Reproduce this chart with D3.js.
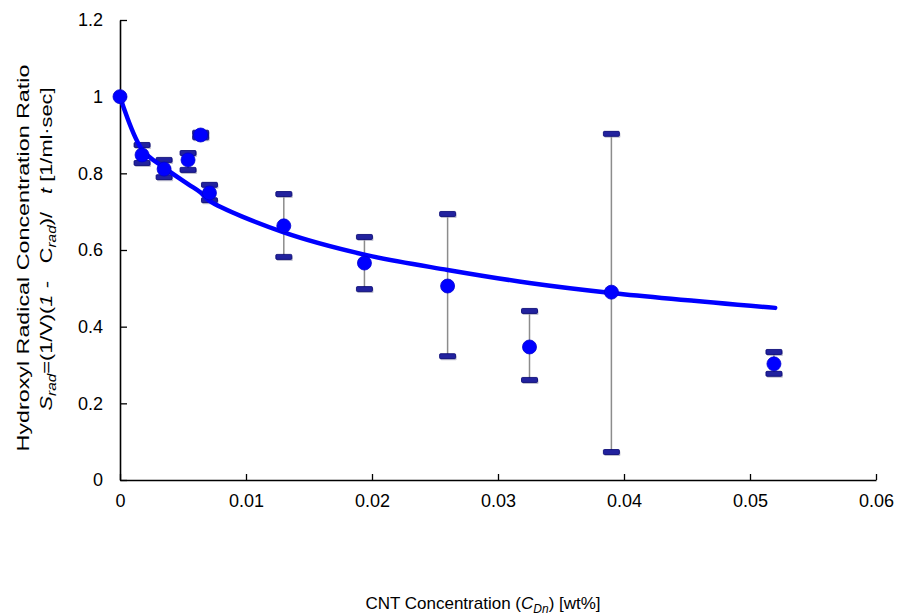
<!DOCTYPE html>
<html lang="en">
<head>
<meta charset="UTF-8">
<title>Hydroxyl radical vs CNT concentration</title>
<script src="https://cdn.jsdelivr.net/npm/d3@7"></script>
<style>
  body { margin: 0; background: #fff; }
  svg text { font-family: "Liberation Sans", Arial, sans-serif; fill: #000; }
</style>
</head>
<body>
<div id="chart"></div>
<script>
// measured points
const conc  = [0, 0.00175, 0.0035, 0.0054, 0.0064, 0.0071, 0.013, 0.0194, 0.026, 0.0325, 0.039, 0.0519];
const ratio = [1.0, 0.848, 0.811, 0.835, 0.900, 0.749, 0.663, 0.566, 0.506, 0.347, 0.490, 0.303];
const errHi = [null, 0.874, 0.835, 0.853, 0.906, 0.770, 0.746, 0.634, 0.694, 0.441, 0.903, 0.334];
const errLo = [null, 0.827, 0.790, 0.809, 0.894, 0.730, 0.582, 0.498, 0.323, 0.261, 0.073, 0.277];

// fitted curve
const fitX = [0, 0.00175, 0.0035, 0.0054, 0.0064, 0.0071, 0.013, 0.0194, 0.026, 0.0325, 0.039, 0.052];
const fitY = [1.0, 0.862, 0.815, 0.772, 0.750, 0.728, 0.646, 0.588, 0.548, 0.514, 0.488, 0.449];

const xTicks = [0, 0.01, 0.02, 0.03, 0.04, 0.05, 0.06];
const yTicks = [0, 0.2, 0.4, 0.6, 0.8, 1.0, 1.2];

const W = 897, H = 616;
const pLeft = 120, pRight = 876, pTop = 20, pBottom = 480;

const svg = d3.select("#chart").append("svg")
  .attr("width", W).attr("height", H);

const x = d3.scaleLinear().domain([0, 0.06]).range([pLeft, pRight]);
const y = d3.scaleLinear().domain([0, 1.2]).range([pBottom, pTop]);

// axes (ticks point inward)
const xAxis = svg.append("g")
  .attr("transform", `translate(0,${pBottom})`)
  .call(d3.axisBottom(x).tickValues(xTicks).tickSizeInner(-6).tickSizeOuter(0)
    .tickPadding(14).tickFormat(d => d === 0 ? "0" : d3.format(".2f")(d)));
const yAxis = svg.append("g")
  .attr("transform", `translate(${pLeft},0)`)
  .call(d3.axisLeft(y).tickValues(yTicks).tickSizeInner(-7).tickSizeOuter(0)
    .tickPadding(17).tickFormat(d => d === 0 ? "0" : d === 1 ? "1" : d3.format(".1f")(d)));

[xAxis, yAxis].forEach(g => {
  g.select(".domain").attr("stroke", "#000").attr("stroke-width", 1.6);
  g.selectAll(".tick line").attr("stroke", "#000").attr("stroke-width", 1.3);
  g.selectAll(".tick text").attr("font-size", 18).attr("font-family", "Liberation Sans, Arial, sans-serif").attr("fill", "#000");
});

// error bars
const bars = conc.map((c, i) => ({ c, hi: errHi[i], lo: errLo[i] })).filter(d => d.hi !== null);

svg.append("g").selectAll("line")
  .data(bars).join("line")
  .attr("x1", d => x(d.c)).attr("x2", d => x(d.c))
  .attr("y1", d => y(d.hi)).attr("y2", d => y(d.lo))
  .attr("stroke", "#8c8c8c").attr("stroke-width", 1.5);

const caps = svg.append("g");
bars.forEach(d => {
  [d.hi, d.lo].forEach(v => {
    caps.append("rect")
      .attr("x", x(d.c) - 7).attr("y", y(v) - 1)
      .attr("width", 16).attr("height", 5).attr("rx", 1)
      .attr("fill", "#9a9ab0").attr("opacity", 0.6);
    caps.append("rect")
      .attr("x", x(d.c) - 8).attr("y", y(v) - 2.5)
      .attr("width", 16).attr("height", 5).attr("rx", 1)
      .attr("fill", "#22229e").attr("stroke", "#000070").attr("stroke-width", 0.8);
  });
});

// fitted line
const line = d3.line().x(d => x(d[0])).y(d => y(d[1])).curve(d3.curveCatmullRom.alpha(0.5));
svg.append("path")
  .datum(fitX.map((v, i) => [v, fitY[i]]))
  .attr("d", line)
  .attr("fill", "none").attr("stroke", "#0000ff")
  .attr("stroke-width", 4.5).attr("stroke-linecap", "round");

// markers
svg.append("g").selectAll("circle")
  .data(conc.map((c, i) => [c, ratio[i]])).join("circle")
  .attr("cx", d => x(d[0])).attr("cy", d => y(d[1])).attr("r", 7)
  .attr("fill", "#0000ff").attr("stroke", "#0000d0").attr("stroke-width", 0.8);

// axis titles
const xt = svg.append("text")
  .attr("x", 483).attr("y", 609).attr("text-anchor", "middle").attr("font-size", 17);
xt.append("tspan").text("CNT Concentration (");
xt.append("tspan").attr("font-style", "italic").text("C");
xt.append("tspan").attr("font-style", "italic").attr("font-size", 12).attr("dy", 4).text("Dn");
xt.append("tspan").attr("dy", -4).text(") [wt%]");

const yl = svg.append("g").attr("transform", "translate(0,258) rotate(-90)");
yl.append("text").attr("x", 0).attr("y", 29).attr("text-anchor", "middle")
  .attr("font-size", 17).attr("transform", "scale(1.37,1)")
  .text("Hydroxyl Radical Concentration Ratio");

const yl2 = svg.append("g").attr("transform", "translate(0,249) rotate(-90)");
const t2 = yl2.append("text").attr("x", 0).attr("y", 52).attr("text-anchor", "middle")
  .attr("font-size", 17).attr("transform", "scale(1.28,1)");
t2.append("tspan").attr("font-style", "italic").text("S");
t2.append("tspan").attr("font-style", "italic").attr("font-size", 12).attr("dy", 4).text("rad");
t2.append("tspan").attr("dy", -4).text("=(1/V)(");
t2.append("tspan").attr("font-style", "italic").text("1 -");
t2.append("tspan").text("\u00a0\u00a0\u00a0C");
t2.append("tspan").attr("font-style", "italic").attr("font-size", 12).attr("dy", 4).text("rad");
t2.append("tspan").attr("dy", -4).text(")/\u00a0\u00a0\u00a0");
t2.append("tspan").attr("font-style", "italic").text("t");
t2.append("tspan").text(" [1/ml\u00b7sec]");
</script>
</body>
</html>
